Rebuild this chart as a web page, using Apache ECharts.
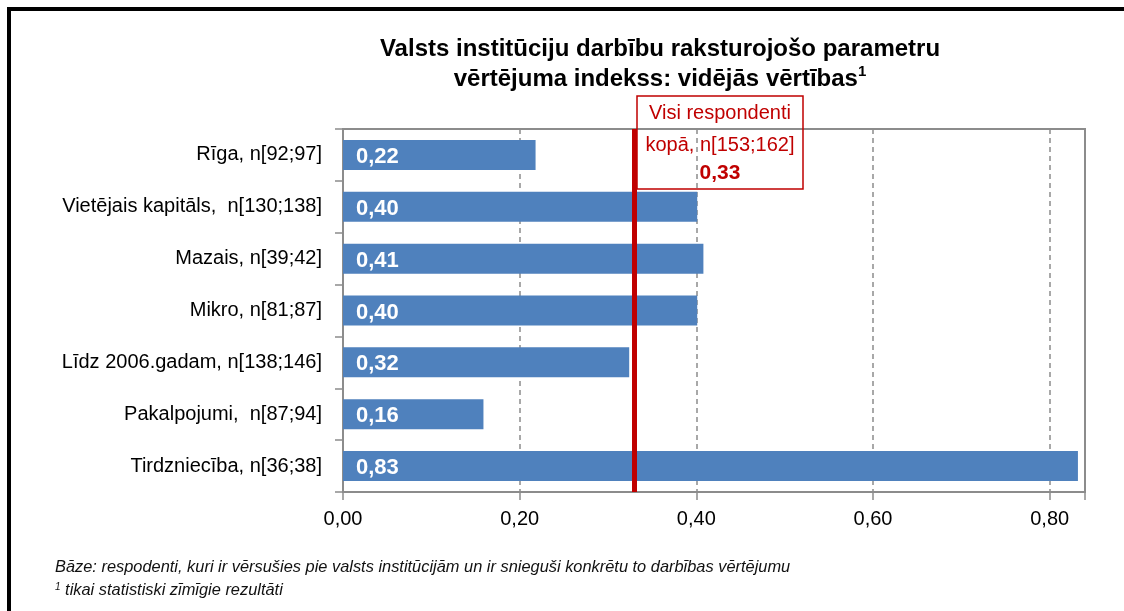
<!DOCTYPE html>
<html>
<head>
<meta charset="utf-8">
<script src="https://cdn.jsdelivr.net/npm/echarts@6/dist/echarts.min.js"></script>
<style>
  html, body { margin: 0; padding: 0; background: #fff; }
  #chart { width: 1124px; height: 611px; }
</style>
</head>
<body>
<div id="chart"></div>
<script>
const categories = [
    'Rīga, n[92;97]',
    'Vietējais kapitāls,  n[130;138]',
    'Mazais, n[39;42]',
    'Mikro, n[81;87]',
    'Līdz 2006.gadam, n[138;146]',
    'Pakalpojumi,  n[87;94]',
    'Tirdzniecība, n[36;38]'
];
const values = [0.218, 0.401, 0.408, 0.401, 0.324, 0.159, 0.832];
const totalValue = 0.327;
const xTicks = [0, 0.2, 0.4, 0.6, 0.8];

const font = '"Liberation Sans", Arial, sans-serif';
const red = '#c00000';
const grey = '#8c8c8c';

const fmt = v => v.toFixed(2).replace('.', ',');

let myChart = echarts.init(document.getElementById('chart'));

let option = {
    animation: false,
    textStyle: { fontFamily: font },
    title: {
        text: '{t|Valsts institūciju darbību raksturojošo parametru}\n{t|vērtējuma indekss: vidējās vērtības}{s|1}',
        left: 655,
        top: 29,
        textAlign: 'center',
        textStyle: {
            rich: {
                t: { fontFamily: font, fontSize: 24, fontWeight: 'bold', color: '#000', lineHeight: 30 },
                s: { fontFamily: font, fontSize: 15, fontWeight: 'bold', color: '#000', verticalAlign: 'top', lineHeight: 30, padding: [0, 0, 10, 0] }
            }
        }
    },
    grid: {
        left: 343,
        top: 129,
        right: 39,
        bottom: 119,
        show: true,
        borderColor: grey,
        borderWidth: 2
    },
    xAxis: {
        type: 'value',
        min: 0,
        max: 0.84,
        interval: 0.2,
        axisLine: { show: true, lineStyle: { color: grey, width: 2 } },
        axisTick: { show: true, length: 8, lineStyle: { color: grey, width: 1.5 } },
        splitLine: { show: true, lineStyle: { color: grey, type: [5, 4], width: 1.5 } },
        axisLabel: {
            color: '#000',
            fontSize: 20,
            margin: 17,
            formatter: v => xTicks.some(t => Math.abs(t - v) < 1e-9) ? fmt(v) : ''
        }
    },
    yAxis: {
        type: 'category',
        data: categories,
        inverse: true,
        axisLine: { show: true, lineStyle: { color: grey, width: 2 } },
        axisTick: { show: true, length: 8, lineStyle: { color: grey, width: 1.5 } },
        axisLabel: { color: '#000', fontSize: 20, margin: 21 }
    },
    series: [{
        type: 'bar',
        data: values,
        barWidth: 30,
        itemStyle: { color: '#4f81bd' },
        label: {
            show: true,
            position: 'insideLeft',
            distance: 13,
            offset: [0, 2],
            color: '#fff',
            fontSize: 22,
            fontWeight: 'bold',
            formatter: p => fmt(Math.round(p.value * 100) / 100)
        }
    }, {
        // "Visi respondenti kopā" reference line
        type: 'line',
        data: [],
        markLine: {
            symbol: 'none',
            silent: true,
            label: { show: false },
            lineStyle: { color: red, width: 5, type: 'solid' },
            data: [{ xAxis: totalValue }]
        }
    }],
    graphic: [
        // frame lines
        { type: 'rect', shape: { x: 7, y: 7, width: 1117, height: 4 }, style: { fill: '#000' } },
        { type: 'rect', shape: { x: 7, y: 7, width: 4, height: 604 }, style: { fill: '#000' } },
        // annotation box
        {
            type: 'rect',
            shape: { x: 637, y: 96, width: 166, height: 93 },
            style: { fill: 'none', stroke: red, lineWidth: 1.5 },
            z: 10
        },
        {
            type: 'text',
            x: 720, y: 97,
            z: 10,
            style: {
                text: '{a|Visi respondenti}\n{a|kopā, n[153;162]}\n{b|0,33}',
                align: 'center',
                rich: {
                    a: { fontFamily: font, fontSize: 20, fill: red, lineHeight: 32 },
                    b: { fontFamily: font, fontSize: 21, fontWeight: 'bold', fill: red, lineHeight: 24 }
                }
            }
        },
        // footnotes
        {
            type: 'text',
            left: 55, top: 559,
            style: {
                text: 'Bāze: respodenti, kuri ir vērsušies pie valsts institūcijām un ir snieguši konkrētu to darbības vērtējumu',
                font: 'italic 16.4px ' + font,
                fill: '#111'
            }
        },
        {
            type: 'text',
            left: 55, top: 582,
            style: {
                text: '{s|1} tikai statistiski zīmīgie rezultāti',
                font: 'italic 16.4px ' + font,
                fill: '#111',
                rich: { s: { fontSize: 10, fontStyle: 'italic', verticalAlign: 'top', fontFamily: font, fill: '#111' } }
            }
        }
    ]
};

myChart.setOption(option);
</script>
</body>
</html>
